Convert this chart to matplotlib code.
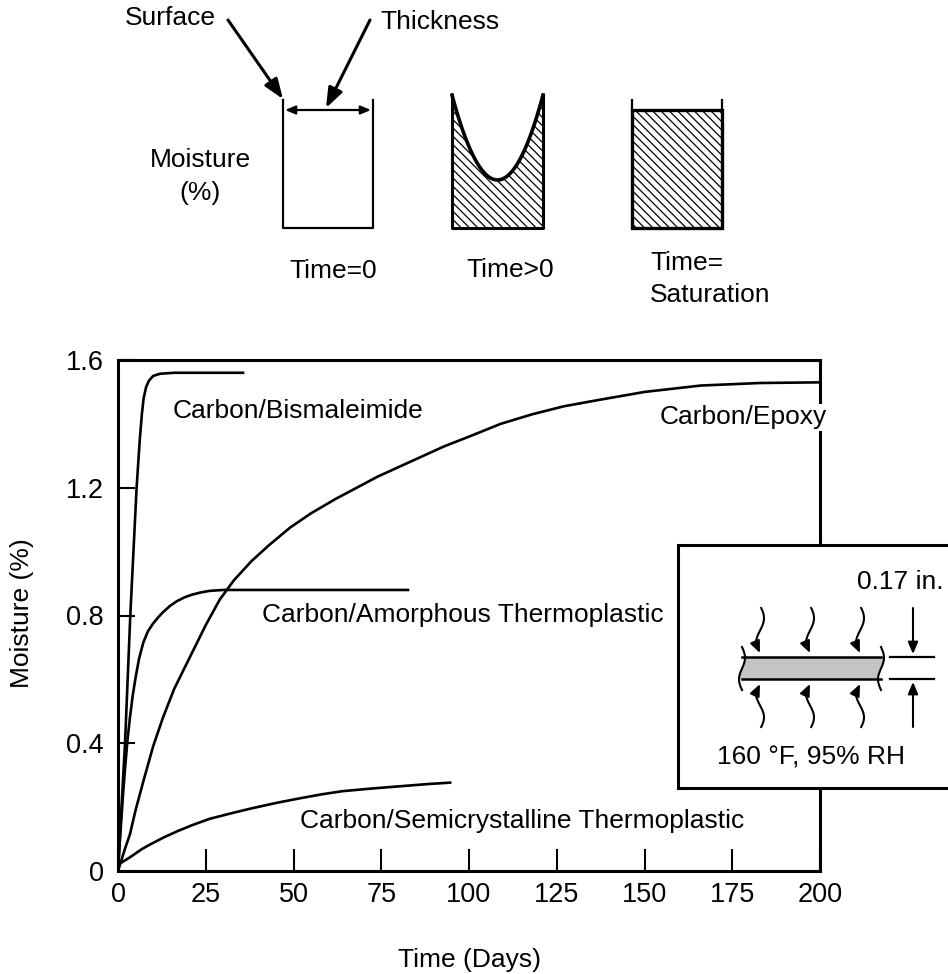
# -*- coding: utf-8 -*-
import numpy as np
import matplotlib
matplotlib.use("Agg")
import matplotlib.pyplot as plt
from matplotlib.patches import Polygon, Rectangle

plt.rcParams['font.family'] = ['Liberation Sans', 'DejaVu Sans']
plt.rcParams['hatch.linewidth'] = 0.9

# moisture uptake curves (days, % moisture)
bmi_days = [0, 1, 2, 3.5, 5.3, 6.2, 6.8, 7.3, 8, 8.8, 10, 12, 16, 36]
bmi_moist = [0, 0.2, 0.4, 0.8, 1.2, 1.35, 1.43, 1.48, 1.515, 1.535, 1.55, 1.557, 1.56, 1.56]

epoxy_days = [0, 2, 3.4, 5, 7.2, 10, 12.8, 16, 20.5, 25, 29, 33, 38, 43, 49, 55, 62, 68,
              74, 80, 87, 93, 100, 109, 118, 127, 137, 150, 166, 183, 200]
epoxy_moist = [0, 0.07, 0.115, 0.19, 0.28, 0.39, 0.48, 0.57, 0.67, 0.77, 0.85, 0.91, 0.97,
               1.02, 1.075, 1.12, 1.165, 1.20, 1.235, 1.265, 1.30, 1.33, 1.36, 1.40, 1.43,
               1.455, 1.475, 1.50, 1.52, 1.528, 1.53]

amorph_days = [0, 0.5, 1, 1.5, 2, 2.7, 3.4, 4.2, 5, 6, 7.2, 8.5, 10, 11.5, 12.8, 14.8,
               16.8, 19, 21, 23.5, 26, 30, 40, 83]
amorph_moist = [0, 0.09, 0.17, 0.25, 0.32, 0.41, 0.48, 0.55, 0.605, 0.665, 0.715, 0.75,
                0.775, 0.795, 0.81, 0.83, 0.845, 0.857, 0.865, 0.872, 0.877, 0.88, 0.88, 0.88]

semi_days = [0, 1.5, 3, 5, 7, 10, 13, 17, 21, 26, 32, 38, 45, 52, 58, 64, 72, 80, 88, 95]
semi_moist = [0.02, 0.03, 0.04, 0.055, 0.07, 0.088, 0.105, 0.125, 0.143, 0.163, 0.18,
              0.196, 0.213, 0.228, 0.24, 0.25, 0.258, 0.265, 0.272, 0.277]

x_ticks = [0, 25, 50, 75, 100, 125, 150, 175, 200]
y_ticks = [0, 0.4, 0.8, 1.2, 1.6]
y_tick_labels = ["0", "0.4", "0.8", "1.2", "1.6"]

W, H = 948, 974
FS = 19
HATCH = '\\\\\\\\'

fig = plt.figure(figsize=(W / 100, H / 100), dpi=100)

# main chart
ax = fig.add_axes([118 / W, 1 - 871 / H, (820 - 118) / W, (871 - 360) / H])
for d, m in [(bmi_days, bmi_moist), (epoxy_days, epoxy_moist),
             (amorph_days, amorph_moist), (semi_days, semi_moist)]:
    ax.plot(d, m, color='black', lw=1.9, solid_capstyle='butt', solid_joinstyle='round')

ax.set_xlim(0, 200)
ax.set_ylim(0, 1.6)
ax.set_xticks(x_ticks)
ax.set_xticklabels([str(t) for t in x_ticks])
ax.set_yticks(y_ticks)
ax.set_yticklabels(y_tick_labels)
for s in ax.spines.values():
    s.set_linewidth(2.2)
ax.tick_params(axis='x', direction='in', length=16, width=1.5, pad=8, labelsize=19.5)
ax.tick_params(axis='y', direction='in', length=12, width=1.5, pad=10, labelsize=19.5)

ax.text(15.6, 1.44, "Carbon/Bismaleimide", fontsize=FS, va='center')
ax.text(154.4, 1.42, "Carbon/Epoxy", fontsize=FS, va='center', clip_on=False,
        bbox=dict(facecolor='white', edgecolor='none', pad=1), zorder=4)
ax.text(41, 0.80, "Carbon/Amorphous Thermoplastic", fontsize=FS, va='center')
ax.text(51.9, 0.155, "Carbon/Semicrystalline Thermoplastic", fontsize=FS, va='center')

fig.text(22 / W, 1 - 613 / H, "Moisture (%)", rotation=90, fontsize=FS,
         ha='center', va='center')
fig.text(470 / W, 1 - 960 / H, "Time (Days)", fontsize=FS, ha='center', va='center')

# overlay in pixel coordinates for the sketches
ov = fig.add_axes([0, 0, 1, 1], zorder=5)
ov.set_xlim(0, W)
ov.set_ylim(H, 0)
ov.axis('off')
ov.patch.set_alpha(0)

def arrow(x0, y0, x1, y1, lw=1.5, hw=0.4, hl=0.8):
    ov.annotate("", xy=(x1, y1), xytext=(x0, y0),
                arrowprops=dict(arrowstyle=f"-|>,head_width={hw},head_length={hl}",
                                color='black', lw=lw, shrinkA=0, shrinkB=0))

# --- moisture profile sketches
ov.text(170, 18, "Surface", fontsize=FS, ha='center', va='center')
ov.text(380, 22, "Thickness", fontsize=FS, ha='left', va='center')
ov.text(200, 160, "Moisture", fontsize=FS, ha='center', va='center')
ov.text(200, 193, "(%)", fontsize=FS, ha='center', va='center')
arrow(228, 20, 283, 99, lw=2.2, hw=0.45, hl=1.2)
arrow(370, 20, 326, 108, lw=2.2, hw=0.45, hl=1.2)

# time = 0
ov.plot([283, 283, 373, 373], [100, 228, 228, 100], color='black', lw=1.6)
ov.annotate("", xy=(285, 110), xytext=(371, 110),
            arrowprops=dict(arrowstyle="<|-|>,head_width=0.25,head_length=0.6",
                            color='black', lw=1.6, shrinkA=0, shrinkB=0))
ov.text(333, 271, "Time=0", fontsize=FS, ha='center', va='center')

# time > 0
u = np.linspace(-1, 1, 60)
cx = 452 + (u + 1) / 2 * 91
cy = 180 - 85 * u ** 2
poly = np.column_stack([np.r_[cx, 543, 452], np.r_[cy, 228, 228]])
ov.add_patch(Polygon(poly, closed=True, facecolor='white', edgecolor='black', lw=0,
                     hatch=HATCH))
ov.plot(cx, cy, color='black', lw=2.6)
ov.plot([452, 452, 543, 543], [95, 228, 228, 95], color='black', lw=2.2)
ov.text(510, 270, "Time>0", fontsize=FS, ha='center', va='center')

# time = saturation
ov.add_patch(Rectangle((632, 110), 90, 118, facecolor='white', edgecolor='black',
                       lw=2.4, hatch=HATCH))
ov.plot([632, 632], [100, 110], color='black', lw=1.6)
ov.plot([722, 722], [100, 110], color='black', lw=1.6)
ov.text(650, 263, "Time=", fontsize=FS, ha='left', va='center')
ov.text(650, 295, "Saturation", fontsize=FS, ha='left', va='center')

# --- specimen inset
ov.add_patch(Rectangle((678, 545), 330, 243, facecolor='white', edgecolor='black',
                       lw=2.2))
ov.text(857, 582, "0.17 in.", fontsize=FS, ha='left', va='center')
ov.text(717, 757, "160 \u00b0F, 95% RH", fontsize=FS, ha='left', va='center')

# specimen bar with break marks
t = np.linspace(0, 1, 30)
wave = 3 * np.sin(2 * np.pi * t)
ly = 647 + t * 43
lx = 742 + wave
rx = 881 + wave
bar = np.column_stack([np.r_[lx[7:-7], rx[-8:6:-1]], np.r_[ly[7:-7], ly[-8:6:-1]]])
ov.add_patch(Polygon(bar, closed=True, facecolor='#c4c4c4', edgecolor='none'))
ov.plot([742, 881], [657, 657], color='black', lw=1.8)
ov.plot([742, 881], [679, 679], color='black', lw=1.8)
ov.plot(lx, ly, color='black', lw=1.5)
ov.plot(rx, ly, color='black', lw=1.5)

# wavy moisture arrows
def wavy(xc, y0, y1):
    s = np.linspace(0, 0.8, 30)
    yy = y0 + s * (y1 - y0)
    xx = xc + 4 * np.sin(2 * np.pi * s * 0.9 + 0.3)
    ov.plot(xx, yy, color='black', lw=1.5)
    arrow(xx[-1], yy[-1], xc, y1, lw=1.5, hw=0.3, hl=0.7)

for xc in [760, 810, 860]:
    wavy(xc, 608, 653)
    wavy(xc, 727, 684)

# thickness dimension
ov.plot([890, 934], [657, 657], color='black', lw=1.6)
ov.plot([890, 934], [679, 679], color='black', lw=1.6)
arrow(913, 608, 913, 654, lw=1.5, hw=0.3, hl=0.7)
arrow(913, 727, 913, 682, lw=1.5, hw=0.3, hl=0.7)

fig.savefig("out.png", dpi=100)
